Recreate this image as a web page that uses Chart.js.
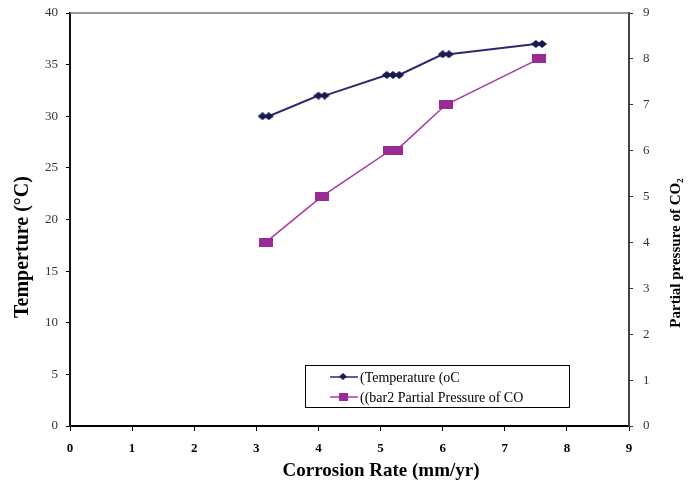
<!DOCTYPE html>
<html>
<head>
<meta charset="utf-8">
<script src="https://cdn.jsdelivr.net/npm/chart.js@4"></script>
<style>
  html, body { margin: 0; padding: 0; background: #fff; }
  #wrap { width: 698px; height: 485px; }
</style>
</head>
<body>
<div id="wrap"><canvas id="chart" width="698" height="485"></canvas></div>
<script>
// data
const tempX = [3.1, 3.2, 4.0, 4.1, 5.1, 5.2, 5.3, 6.0, 6.1, 7.5, 7.6];
const tempY = [30, 30, 32, 32, 34, 34, 34, 36, 36, 37, 37];
const presX = [3.15, 4.05, 5.15, 5.25, 6.05, 7.55];
const presY = [4, 5, 6, 6, 7, 8];
const seriesNames = ['(Temperature (oC', '((bar2 Partial Pressure of CO'];
const xTitle = 'Corrosion Rate (mm/yr)';
const yTitle = 'Temperture (°C)';
const y2Title = 'Partial pressure of CO₂';

const navy = '#2a2a70';
const navyDark = '#1a1a52';
const magenta = '#a8389f';
const magentaFill = '#9a2b94';
const serif = '"Liberation Serif", "Times New Roman", serif';

// marker shapes
function diamond(w, h) {
    const c = document.createElement('canvas');
    c.width = w; c.height = h;
    const g = c.getContext('2d');
    g.fillStyle = navyDark;
    g.beginPath();
    g.moveTo(w / 2, 0); g.lineTo(w, h / 2); g.lineTo(w / 2, h); g.lineTo(0, h / 2);
    g.closePath(); g.fill();
    return c;
}
function box(w, h) {
    const c = document.createElement('canvas');
    c.width = w; c.height = h;
    const g = c.getContext('2d');
    g.fillStyle = magentaFill;
    g.fillRect(0, 0, w, h);
    return c;
}
const diaMark = diamond(10, 8);
const boxMark = box(14, 9);

const toPts = (xs, ys) => xs.map((x, i) => ({ x: x, y: ys[i] }));

// frame, titles and legend box
const extras = {
    id: 'extras',
    afterDraw(chart) {
        const ctx = chart.ctx;
        const a = chart.chartArea;
        ctx.save();
        // top border
        ctx.strokeStyle = '#777';
        ctx.lineWidth = 1.5;
        ctx.beginPath();
        ctx.moveTo(a.left, a.top); ctx.lineTo(a.right, a.top);
        ctx.stroke();

        // axis titles
        ctx.fillStyle = '#000';
        ctx.textAlign = 'center';
        ctx.textBaseline = 'middle';
        ctx.font = 'bold 19px ' + serif;
        ctx.fillText(xTitle, 381, 471);

        ctx.save();
        ctx.font = 'bold 20px ' + serif;
        ctx.translate(23, 247);
        ctx.rotate(-Math.PI / 2);
        ctx.fillText(yTitle, 0, 0);
        ctx.restore();

        ctx.save();
        ctx.font = 'bold 15px ' + serif;
        ctx.translate(676, 253);
        ctx.rotate(-Math.PI / 2);
        ctx.fillText(y2Title, 0, 0);
        ctx.restore();

        // legend
        ctx.strokeStyle = '#000';
        ctx.lineWidth = 1;
        ctx.strokeRect(305.5, 365.5, 264, 42);
        const ds = chart.data.datasets;
        const rows = [377, 397];
        ctx.font = '14px ' + serif;
        ctx.textAlign = 'left';
        ds.forEach((d, i) => {
            const y = rows[i];
            ctx.strokeStyle = d.borderColor;
            ctx.lineWidth = 1.5;
            ctx.beginPath();
            ctx.moveTo(330, y); ctx.lineTo(358, y);
            ctx.stroke();
            if (i === 0) ctx.drawImage(diaMark, 339, y - 4, 8, 7);
            else ctx.drawImage(boxMark, 339, y - 4, 9, 8);
            ctx.fillStyle = '#000';
            ctx.fillText(d.label, 360, y + 1);
        });
        ctx.restore();
    }
};

new Chart(document.getElementById('chart'), {
    type: 'scatter',
    data: {
        datasets: [
            {
                label: seriesNames[0],
                data: toPts(tempX, tempY),
                yAxisID: 'y',
                showLine: true,
                borderColor: navy,
                borderWidth: 2,
                pointStyle: diaMark,
                pointRadius: 5
            },
            {
                label: seriesNames[1],
                data: toPts(presX, presY),
                yAxisID: 'y2',
                showLine: true,
                borderColor: magenta,
                borderWidth: 1.5,
                pointStyle: boxMark,
                pointRadius: 7
            }
        ]
    },
    options: {
        responsive: false,
        animation: false,
        layout: { padding: { top: 13, left: 0, right: 0, bottom: 0 } },
        plugins: { legend: { display: false }, tooltip: { enabled: false } },
        scales: {
            x: {
                type: 'linear', min: 0, max: 9,
                ticks: { stepSize: 1, color: '#000', padding: 10, font: { family: serif, size: 13, weight: 'bold' } },
                grid: { drawOnChartArea: false, tickLength: 5, color: '#000', tickColor: '#000' },
                border: { color: '#000', width: 2 },
                afterFit(s) { s.height = 59; s.paddingLeft = 0; s.paddingRight = 0; }
            },
            y: {
                position: 'left', min: 0, max: 40,
                ticks: { stepSize: 5, color: '#333', padding: 8, font: { family: serif, size: 13 } },
                grid: { drawOnChartArea: false, tickLength: 4, tickColor: '#000' },
                border: { color: '#111', width: 2 },
                afterFit(s) { s.width = 70; s.paddingTop = 0; s.paddingBottom = 0; }
            },
            y2: {
                position: 'right', min: 0, max: 9,
                ticks: { stepSize: 1, color: '#333', padding: 10, font: { family: serif, size: 13 } },
                grid: { drawOnChartArea: false, tickLength: 4, tickColor: '#333' },
                border: { color: '#444', width: 2 },
                afterFit(s) { s.width = 69; s.paddingTop = 0; s.paddingBottom = 0; }
            }
        }
    },
    plugins: [extras]
});
</script>
</body>
</html>
